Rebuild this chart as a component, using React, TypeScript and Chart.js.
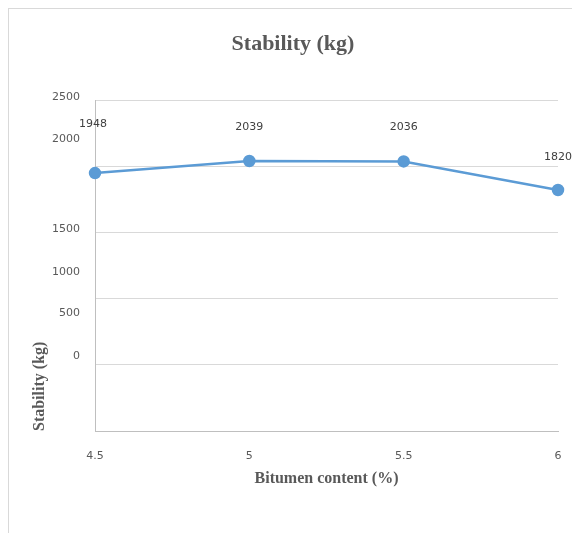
import React, { useEffect, useRef } from "react";
import { Chart, registerables } from "chart.js";

Chart.register(...registerables);

const categories = ["4.5", "5", "5.5", "6"];
const stability = [1948, 2039, 2036, 1820];
const yTickLabels = ["2500", "2000", "1500", "1000", "500", "0"];
// values at which the (misaligned) y tick labels sit in the reference
const yTickLabelAnchors = [2525, 2202, 1526, 1201, 887, 563];
// how far above each point its value label sits (style)
const labelLift = [49, 34, 34, 33];

const GRID = "#d9d9d9";
const AXIS = "#bfbfbf";
const TEXT = "#595959";
const LINE = "#5b9bd5";

const valueLabels = {
  id: "valueLabels",
  afterDatasetsDraw(chart: any) {
    const ctx = chart.ctx;
    const meta = chart.getDatasetMeta(0);
    const data = chart.data.datasets[0].data as number[];
    ctx.save();
    ctx.font = "11px 'DejaVu Sans'";
    ctx.fillStyle = "#404040";
    ctx.textAlign = "center";
    ctx.textBaseline = "middle";
    meta.data.forEach((pt: any, i: number) => {
      ctx.fillText(String(data[i]), pt.x - (i === 0 ? 2 : 0), pt.y - labelLift[i]);
    });
    ctx.restore();
  },
};

export default function App() {
  const ref = useRef<HTMLCanvasElement | null>(null);
  useEffect(() => {
    if (!ref.current) return;
    const chart = new Chart(ref.current, {
      type: "line",
      data: {
        labels: categories,
        datasets: [
          {
            data: stability,
            borderColor: LINE,
            backgroundColor: LINE,
            borderWidth: 2.5,
            pointRadius: 5,
            pointHoverRadius: 5,
            pointBackgroundColor: LINE,
            pointBorderColor: LINE,
            tension: 0,
            clip: false as any,
            yAxisID: "y",
          },
        ],
      },
      options: {
        animation: false,
        responsive: true,
        maintainAspectRatio: false,
        layout: { padding: { left: 5, right: 0, top: 0, bottom: 0 } },
        plugins: {
          legend: { display: false },
          tooltip: { enabled: false },
          title: {
            display: true,
            text: "Stability (kg)",
            color: TEXT,
            font: { family: "'Liberation Serif'", size: 22, weight: "bold" },
            padding: { top: 22, bottom: 42.6 },
          },
        },
        scales: {
          x: {
            type: "category",
            offset: false,
            grid: { display: false, drawTicks: false },
            border: { display: true, color: AXIS, width: 1 },
            ticks: {
              color: TEXT,
              font: { family: "'DejaVu Sans'", size: 11 },
              padding: 19,
              maxRotation: 0,
            },
            title: {
              display: true,
              text: "Bitumen content (%)",
              color: TEXT,
              font: { family: "'Liberation Serif'", size: 16, weight: "bold" },
              padding: { top: 0, bottom: 45 },
            },
            afterFit: (s: any) => {
              s.height = 102;
              s.paddingRight = 14;
            },
          },
          y: {
            type: "linear",
            position: "left",
            weight: 0,
            min: 0,
            max: 2500,
            ticks: { display: false, stepSize: 500 },
            grid: { color: GRID, drawTicks: false },
            border: { display: true, color: AXIS, width: 1 },
            afterFit: (s: any) => {
              s.width = 0;
            },
          },
          y2: {
            type: "linear",
            position: "left",
            weight: 1,
            min: 0,
            max: 2500,
            grid: { display: false, drawTicks: false },
            border: { display: false },
            afterBuildTicks: (s: any) => {
              s.ticks = yTickLabelAnchors.map((v) => ({ value: v }));
            },
            ticks: {
              autoSkip: false,
              color: TEXT,
              font: { family: "'DejaVu Sans'", size: 11 },
              padding: 15,
              callback: (_v: any, i: number) => yTickLabels[i],
            },
            title: {
              display: true,
              text: "Stability (kg)",
              align: "start",
              color: TEXT,
              font: { family: "'Liberation Serif'", size: 16, weight: "bold" },
              padding: { top: 16, bottom: 0 },
            },
            afterFit: (s: any) => {
              s.width = 81;
            },
          },
        },
      } as any,
      plugins: [valueLabels],
    });
    return () => chart.destroy();
  }, []);

  return (
    <div
      style={{
        position: "absolute",
        left: 8,
        top: 8,
        width: 564,
        height: 525,
        boxSizing: "border-box",
        borderTop: `1px solid ${GRID}`,
        borderLeft: `1px solid ${GRID}`,
      }}
    >
      <canvas ref={ref} />
    </div>
  );
}
